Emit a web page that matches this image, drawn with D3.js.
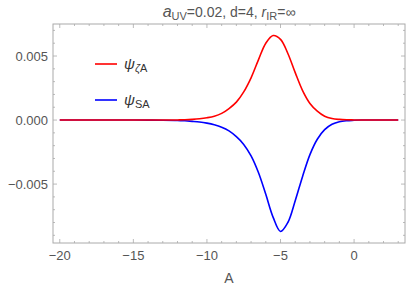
<!DOCTYPE html>
<html>
<head>
<meta charset="utf-8">
<script src="https://cdn.jsdelivr.net/npm/d3@7"></script>
<style>
body { margin: 0; background: #fff; }
text { font-family: "Liberation Sans", Arial, sans-serif; fill: #555; }
</style>
</head>
<body>
<div id="vis"></div>
<script>
var xs = [-20, -19, -18, -17, -16, -15, -14, -13, -12, -11.5, -11, -10.5, -10, -9.5, -9, -8.5, -8, -7.5, -7, -6.5, -6, -5.5, -5, -4.5, -4, -3.5, -3, -2.5, -2, -1.5, -1, -0.5, 0, 0.5, 1, 1.5, 2, 2.5, 3];
var psiZeta = [0, 0, 0, 0, 0, 0, 0, 0, 0.00001, 0.00002, 0.00005, 0.0001, 0.00018, 0.0003, 0.00052, 0.0009, 0.0014, 0.0022, 0.0033, 0.0047, 0.006, 0.0066, 0.0063, 0.0052, 0.0037, 0.0023, 0.0013, 0.0007, 0.0003, 0.00012, 0.00005, 0.00002, 0.00001, 0, 0, 0, 0, 0, 0];
var psiS = [0, 0, 0, 0, 0, 0, -0.000005, -0.00001, -0.00003, -0.00006, -0.0001, -0.00015, -0.00024, -0.00037, -0.00056, -0.00085, -0.0013, -0.0019, -0.0028, -0.0041, -0.0058, -0.0076, -0.0087, -0.008, -0.0063, -0.0044, -0.0027, -0.0015, -0.00075, -0.00033, -0.00013, -0.00005, -0.00002, 0, 0, 0, 0, 0, 0];
var xTicks = [-20, -15, -10, -5, 0];
var yTicks = [-0.005, 0, 0.005];

var width = 407, height = 290;
var margin = {top: 24, right: 2, bottom: 47, left: 53};

var svg = d3.select('#vis').append('svg')
    .attr('width', width)
    .attr('height', height);

var x = d3.scaleLinear().domain([-20.46, 3.46]).range([margin.left, width - margin.right]);
var y = d3.scaleLinear().domain([-0.0096, 0.0075]).range([height - margin.bottom, margin.top]);

var frameColor = '#aaa';
var x0 = x.range()[0], x1 = x.range()[1], y0 = y.range()[0], y1 = y.range()[1];

// minor ticks
var xMinor = d3.range(-20, 4, 1);
var yMinor = d3.range(-9, 8, 1).map(function(d) { return d / 1000; });

var ticks = svg.append('g').attr('stroke', frameColor).attr('stroke-width', 0.8);
xMinor.forEach(function(v) {
    var len = (v % 5 == 0) ? 4 : 2;
    ticks.append('line').attr('x1', x(v)).attr('x2', x(v)).attr('y1', y0).attr('y2', y0 - len);
    ticks.append('line').attr('x1', x(v)).attr('x2', x(v)).attr('y1', y1).attr('y2', y1 + len);
});
yMinor.forEach(function(v) {
    var len = (Math.round(v * 1000) % 5 == 0) ? 4 : 2;
    ticks.append('line').attr('y1', y(v)).attr('y2', y(v)).attr('x1', x0).attr('x2', x0 + len);
    ticks.append('line').attr('y1', y(v)).attr('y2', y(v)).attr('x1', x1).attr('x2', x1 - len);
});

svg.append('rect')
    .attr('x', x0).attr('y', y1)
    .attr('width', x1 - x0).attr('height', y0 - y1)
    .attr('fill', 'none').attr('stroke', frameColor).attr('stroke-width', 1);

svg.selectAll('.xl').data(xTicks).enter().append('text')
    .attr('x', function(d) { return x(d); })
    .attr('y', y0 + 17)
    .attr('text-anchor', 'middle')
    .style('font-size', '13px')
    .text(function(d) { return d3.format('')(d).replace('-', '\u2212'); });

svg.selectAll('.yl').data(yTicks).enter().append('text')
    .attr('x', x0 - 5)
    .attr('y', function(d) { return y(d) + 4.5; })
    .attr('text-anchor', 'end')
    .style('font-size', '13px')
    .text(function(d) { return d3.format('.3f')(d).replace('-', '\u2212'); });

svg.append('text')
    .attr('x', (x0 + x1) / 2).attr('y', 283)
    .attr('text-anchor', 'middle')
    .style('font-size', '14px')
    .text('A');

// title
var title = svg.append('text')
    .attr('x', (x0 + x1) / 2).attr('y', 17)
    .attr('text-anchor', 'middle')
    .style('font-size', '14px');
title.append('tspan').style('font-style', 'italic').style('font-size', '16px').text('a');
title.append('tspan').attr('dy', 3).style('font-size', '11px').text('UV');
title.append('tspan').attr('dy', -3).text('=0.02, d=4, ');
title.append('tspan').style('font-style', 'italic').text('r');
title.append('tspan').attr('dy', 3).style('font-size', '11px').text('IR');
title.append('tspan').attr('dy', -3).text('=\u221e');

var line = d3.line()
    .x(function(d) { return x(d[0]); })
    .y(function(d) { return y(d[1]); })
    .curve(d3.curveCatmullRom);

svg.append('path')
    .datum(d3.zip(xs, psiS))
    .attr('d', line)
    .attr('fill', 'none')
    .attr('stroke', '#0000ff')
    .attr('stroke-width', 1.6);

svg.append('path')
    .datum(d3.zip(xs, psiZeta))
    .attr('d', line)
    .attr('fill', 'none')
    .attr('stroke', '#ff0000')
    .attr('stroke-width', 1.6);

// legend
var legend = [
    {color: '#ff0000', sub: '\u03b6', sub2: 'A', y: 64},
    {color: '#0000ff', sub: 'S', sub2: 'A', y: 100}
];
legend.forEach(function(l, i) {
    svg.append('line')
        .attr('x1', 95).attr('x2', 117)
        .attr('y1', l.y).attr('y2', l.y)
        .attr('stroke', l.color).attr('stroke-width', 1.6);
    var t = svg.append('text')
        .attr('x', 124).attr('y', l.y + 5)
        .style('font-size', '15px')
        .style('fill', '#333');
    t.append('tspan').style('font-style', 'italic').text('\u03c8');
    t.append('tspan').attr('dy', 3).style('font-size', '11px')
        .style('font-style', i == 0 ? 'italic' : 'normal').text(l.sub);
    t.append('tspan').style('font-style', 'normal').style('font-size', '11px').text(l.sub2);
});
</script>
</body>
</html>
